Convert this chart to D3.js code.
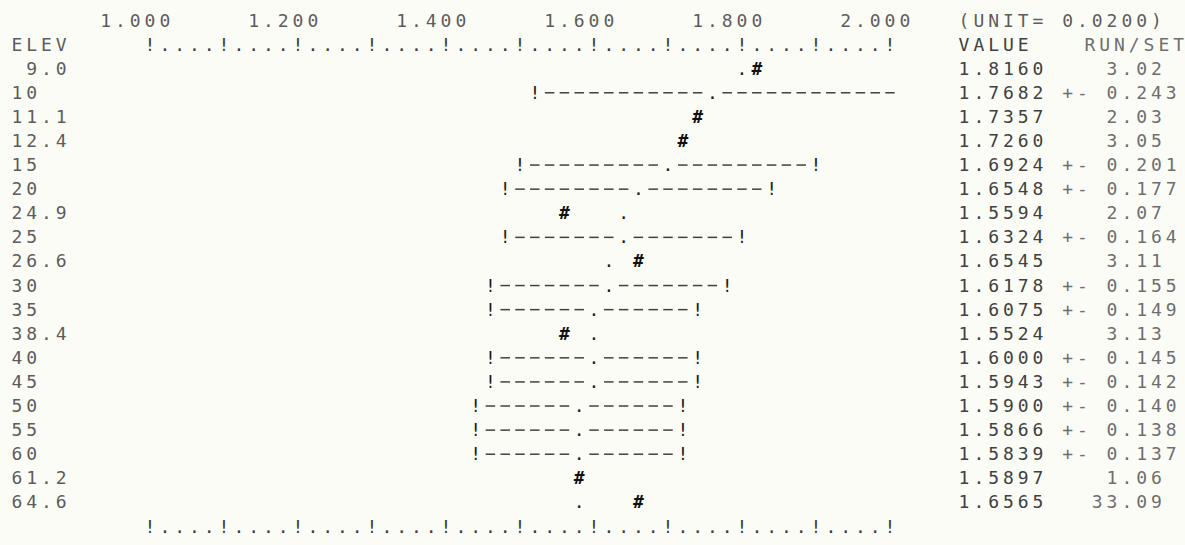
<!DOCTYPE html>
<html lang="en">
  <head>
    <meta charset="UTF-8" />
    <title>ELEV value plot</title>
    <script src="https://d3js.org/d3.v7.min.js"></script>
    <style>
      body {
        margin: 0;
        background-color: #fcfcf7;
      }
      svg text {
        font-family: "DejaVu Sans Mono", "Liberation Mono", monospace;
        font-size: 18px;
        text-anchor: middle;
      }
      .label { fill: #5c5c5c; }
      .value { fill: #404040; }
      .runset { fill: #6e6e6e; }
      .axis { fill: #3c3c3c; }
      .mark { fill: #1e1e1e; }
      .hash { fill: #111; font-weight: bold; }
      .dash { stroke: #404040; stroke-width: 1.5px; }
    </style>
  </head>
  <body>
    <svg id="chart" width="1185" height="545"></svg>
    <script>
      // values
      const elev = ["9.0", "10", "11.1", "12.4", "15", "20", "24.9", "25", "26.6", "30", "35", "38.4", "40", "45", "50", "55", "60", "61.2", "64.6"];
      const value = [1.816, 1.7682, 1.7357, 1.726, 1.6924, 1.6548, 1.5594, 1.6324, 1.6545, 1.6178, 1.6075, 1.5524, 1.6, 1.5943, 1.59, 1.5866, 1.5839, 1.5897, 1.6565];
      const plusMinus = [null, 0.243, null, null, 0.201, 0.177, null, 0.164, null, 0.155, 0.149, null, 0.145, 0.142, 0.14, 0.138, 0.137, null, null];
      const runSet = [3.02, null, 2.03, 3.05, null, null, 2.07, null, 3.11, null, null, 3.13, null, null, null, null, null, 1.06, 33.09];
      // where the "!" ends of each bar sit on the printout
      const barLow = [null, 1.52, null, null, 1.5, 1.48, null, 1.48, null, 1.46, 1.46, null, 1.46, 1.46, 1.44, 1.44, 1.44, null, null];
      const barHigh = [null, 2.02, null, null, 1.9, 1.84, null, 1.8, null, 1.78, 1.74, null, 1.74, 1.74, 1.72, 1.72, 1.72, null, null];
      // the "." trend mark printed on single-run rows
      const trend = [1.8, null, 1.74, 1.72, null, null, 1.64, null, 1.62, null, null, 1.6, null, null, null, null, null, 1.58, 1.58];
      const tickLabels = ["1.000", "1.200", "1.400", "1.600", "1.800", "2.000"];
      const unit = 0.02;

      const svg = d3.select("#chart");

      // value scale, one printer column per unit
      const x = d3.scaleLinear().domain([1, 2]).range([150, 890]);
      const nCols = Math.round((x.domain()[1] - x.domain()[0]) / unit);
      const colX = (c) => x(1 + c * unit);
      // printer rounds halves down
      const toCol = (v) => Math.round((v - 1) / unit - 1e-6);
      const cellW = colX(1) - colX(0);

      // printer lines
      const rows = d3.scalePoint().domain(["ticks", "head", ...elev, "foot"]).range([20, 526]);
      const base = 6.5; // centre -> baseline

      const cells = [];
      function put(str, col, row, cls) {
        [...str].forEach((ch, i) => {
          if (ch !== " ") cells.push({ ch, col: col + i, row, cls });
        });
      }

      // axis lines
      const axisStr = d3.range(nCols + 1).map((i) => (i % 5 === 0 ? "!" : ".")).join("");
      put(axisStr, 0, "head", "axis");
      put(axisStr, 0, "foot", "axis");
      tickLabels.forEach((t) => put(t, toCol(+t) - 3, "ticks", "label"));

      // headers
      put("ELEV", -9, "head", "label");
      put("(UNIT= " + unit.toFixed(4) + ")", 55, "ticks", "label");
      put("VALUE", 55, "head", "value");
      put("RUN/SET", 63.5, "head", "runset");

      const dashes = [];
      elev.forEach((e, i) => {
        put(e.length < 3 ? e : e.padStart(4, " "), -9, e, "label");
        put(value[i].toFixed(4), 55, e, "value");
        const c = toCol(value[i]);
        if (plusMinus[i] != null) {
          put("+-", 62, e, "runset");
          put(plusMinus[i].toFixed(3), 65, e, "runset");
          const lo = toCol(barLow[i]);
          const hi = toCol(barHigh[i]);
          for (let k = Math.max(lo + 1, 0); k <= Math.min(hi - 1, nCols); k++) {
            if (k !== c) dashes.push({ col: k, row: e });
          }
          put("!", lo, e, "mark");
          if (hi <= nCols) put("!", hi, e, "mark");
          put(".", c, e, "mark");
        } else {
          const r = runSet[i].toFixed(2);
          put(r, 69 - r.length, e, "runset");
          const t = toCol(trend[i]);
          if (t !== c) put(".", t, e, "mark");
          put("#", c, e, "hash");
        }
      });

      svg
        .selectAll("line.dash")
        .data(dashes)
        .join("line")
        .attr("class", "dash")
        .attr("x1", (d) => colX(d.col) - cellW * 0.32)
        .attr("x2", (d) => colX(d.col) + cellW * 0.32)
        .attr("y1", (d) => rows(d.row) + 0.5)
        .attr("y2", (d) => rows(d.row) + 0.5);

      svg
        .selectAll("text.cell")
        .data(cells)
        .join("text")
        .attr("class", (d) => "cell " + d.cls)
        .attr("x", (d) => colX(d.col))
        .attr("y", (d) => rows(d.row) + base)
        .text((d) => d.ch);
    </script>
  </body>
</html>
